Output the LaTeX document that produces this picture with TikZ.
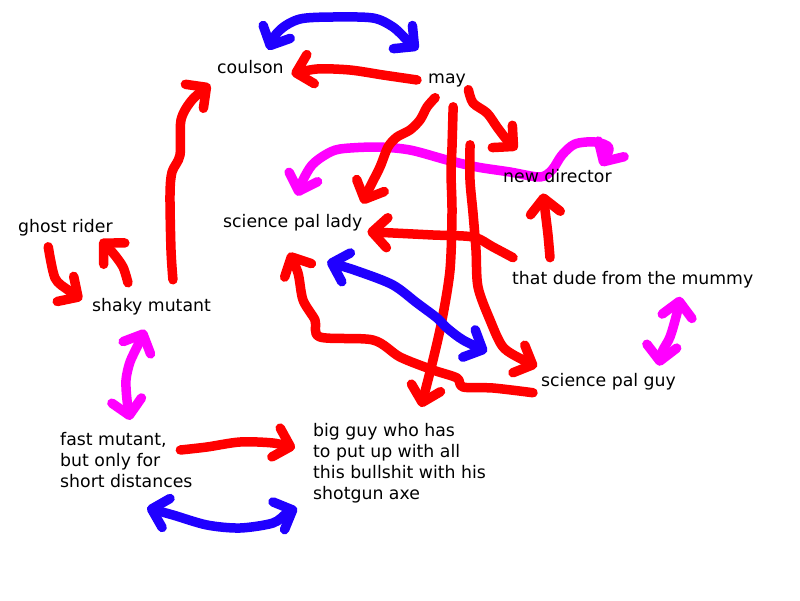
\documentclass[tikz,border=0pt]{standalone}
\usepackage{fontspec}
\setmainfont{DejaVu Sans}
\usetikzlibrary{arrows.meta}
\definecolor{paintred}{RGB}{255,0,0}
\definecolor{paintblue}{RGB}{32,0,255}
\definecolor{paintpink}{RGB}{255,0,255}
\pgfdeclarelayer{ink}
\pgfsetlayers{ink,main}

\begin{document}
\begin{tikzpicture}[x=1pt, y=-1pt,
  who/.style={anchor=base west, inner sep=0pt, font=\fontsize{17.3pt}{21pt}\selectfont},
  paint/.style={line width=9.5pt, line cap=round, line join=round},
  hand/.tip={Straight Barb[length=15pt, width=30pt, round]}]
  \useasboundingbox (0,0) rectangle (800,600);
  % the cast
  \node[who] (coulson) at (217,73) {coulson};
  \node[who] (may) at (428,83) {may};
  \node[who] (director) at (503,182) {new director};
  \node[who] (lady) at (223,227) {science pal lady};
  \node[who] (dude) at (512,284) {that dude from the mummy};
  \node[who] (guy) at (541,386) {science pal guy};
  \node[who] (ghost) at (18,232) {ghost rider};
  \node[who] (shaky) at (92,311) {shaky mutant};
  \node[who, anchor=north west, align=left] (fast) at (60,432) {fast mutant,\\but only for\\short distances};
  \node[who, anchor=north west, align=left] (big) at (313,423) {big guy who has\\to put up with all\\this bullshit with his\\shotgun axe};

  \begin{pgfonlayer}{ink}
  \fill[white] (0,0) rectangle (800,600);
  % top
  \draw[paint, paintblue, hand-hand] plot[smooth] coordinates {([shift={(17.8,-9.9)}]coulson.north) (280,30) (300,19) (333,17) (373,18) (393,27) (408,41) ([shift={(-28.9,-23.5)}]may.north)};
  \draw[paint, paintred, -hand] plot[smooth] coordinates {([shift={(-11,0)}]may.west) (383,75) (350,70) (317,69) ([shift={(7.6,7.5)}]coulson.east)};
  \draw[paint, paintred, -hand] plot[smooth] coordinates {([shift={(21.4,-17.9)}]shaky.north) (171,250) (170,195) (172,172) (180,155) (181,120) (192,100) ([shift={(-40.2,11)}]coulson.south)};
  % left side
  \draw[paint, paintred, -hand] plot[smooth] coordinates {([shift={(-17.2,11)}]ghost.south) (55,278) (68,290) ([shift={(-10,-6.5)}]shaky.west)};
  \draw[paint, paintred, -hand] plot[smooth] coordinates {([shift={(-23.6,-14.9)}]shaky.north) (123,267) (113,253) ([shift={(34.8,3.9)}]ghost.south)};
  \draw[paint, paintpink, hand-hand] plot[smooth] coordinates {([shift={(-6.6,14.9)}]shaky.south) (138,345) (130,362) (126,380) (127,400) ([shift={(3.8,-12)}]fast.north)};
  \draw[paint, paintred, -hand] plot[smooth] coordinates {([shift={(-12.3,18)}]fast.north east) (207,447) (240,442) (273,443) ([shift={(-18,25)}]big.north west)};
  \draw[paint, paintblue, hand-hand] plot[smooth] coordinates {([shift={(87,20)}]fast.south west) (173,515) (207,525) (240,528) (273,523) (287,513) ([shift={(-16,5)}]big.south west)};
  % middle
  \draw[paint, paintpink, hand-hand] plot[smooth] coordinates {([shift={(4.4,-17.9)}]lady.north) (303,180) (312,165) (325,155) (340,149) (377,147) (410,150) (447,160) (477,167) (510,172) (540,177) (552,170) (562,155) (575,144) (595,142) (609,148) ([shift={(-10.8,-2.9)}]director.north east)};
  \draw[paint, paintred, -hand] plot[smooth] coordinates {([shift={(-11.9,10.9)}]may.south) (427,107) (420,120) (410,130) (397,137) (388,147) (380,167) (370,187) ([shift={(0,-10)}]lady.north east)};
  \draw[paint, paintred, -hand] plot[smooth] coordinates {([shift={(6.1,20)}]may.south) (452,147) (451,173) (452,213) (450,270) (442,320) (433,360) ([shift={(108,-16)}]big.north west)};
  \draw[paint, paintred, -hand] plot[smooth] coordinates {([shift={(2.3,2.9)}]may.south east) (473,103) (487,113) (497,127) (507,140) ([shift={(14,-19)}]director.north west)};
  \draw[paint, paintred, -hand] plot[smooth] coordinates {([shift={(23,58)}]may.south) (470,180) (473,213) (476,250) (478,287) (490,320) (503,347) (523,360) ([shift={(-4,-14.5)}]guy.west)};
  \draw[paint, paintred, -hand] plot[smooth] coordinates {([shift={(1,-13)}]dude.north west) (493,247) (473,237) (433,235) (393,233) ([shift={(4.9,9.5)}]lady.east)};
  \draw[paint, paintred, -hand] plot[smooth] coordinates {([shift={(38,-13)}]dude.north west) (548,235) (545,210) ([shift={(-14.4,11)}]director.south)};
  \draw[paint, paintred, -hand] plot[smooth] coordinates {([shift={(-8,11.5)}]guy.west) (493,388) (463,387) (457,378) (433,370) (400,357) (373,340) (320,337) (315,320) (303,300) (298,273) ([shift={(-3.6,21.9)}]lady.south)};
  \draw[paint, paintblue, hand-hand] plot[smooth] coordinates {([shift={(34.4,30.9)}]lady.south) (360,272) (393,285) (417,303) (437,318) (447,328) (463,340) ([shift={(-54,-29.5)}]guy.west)};
  % right side
  \draw[paint, paintpink, hand-hand] plot[smooth] coordinates {([shift={(47.2,8.9)}]dude.south) (677,313) (670,337) (662,352) ([shift={(50.7,-6.9)}]guy.north)};
  \end{pgfonlayer}
\end{tikzpicture}
\end{document}
